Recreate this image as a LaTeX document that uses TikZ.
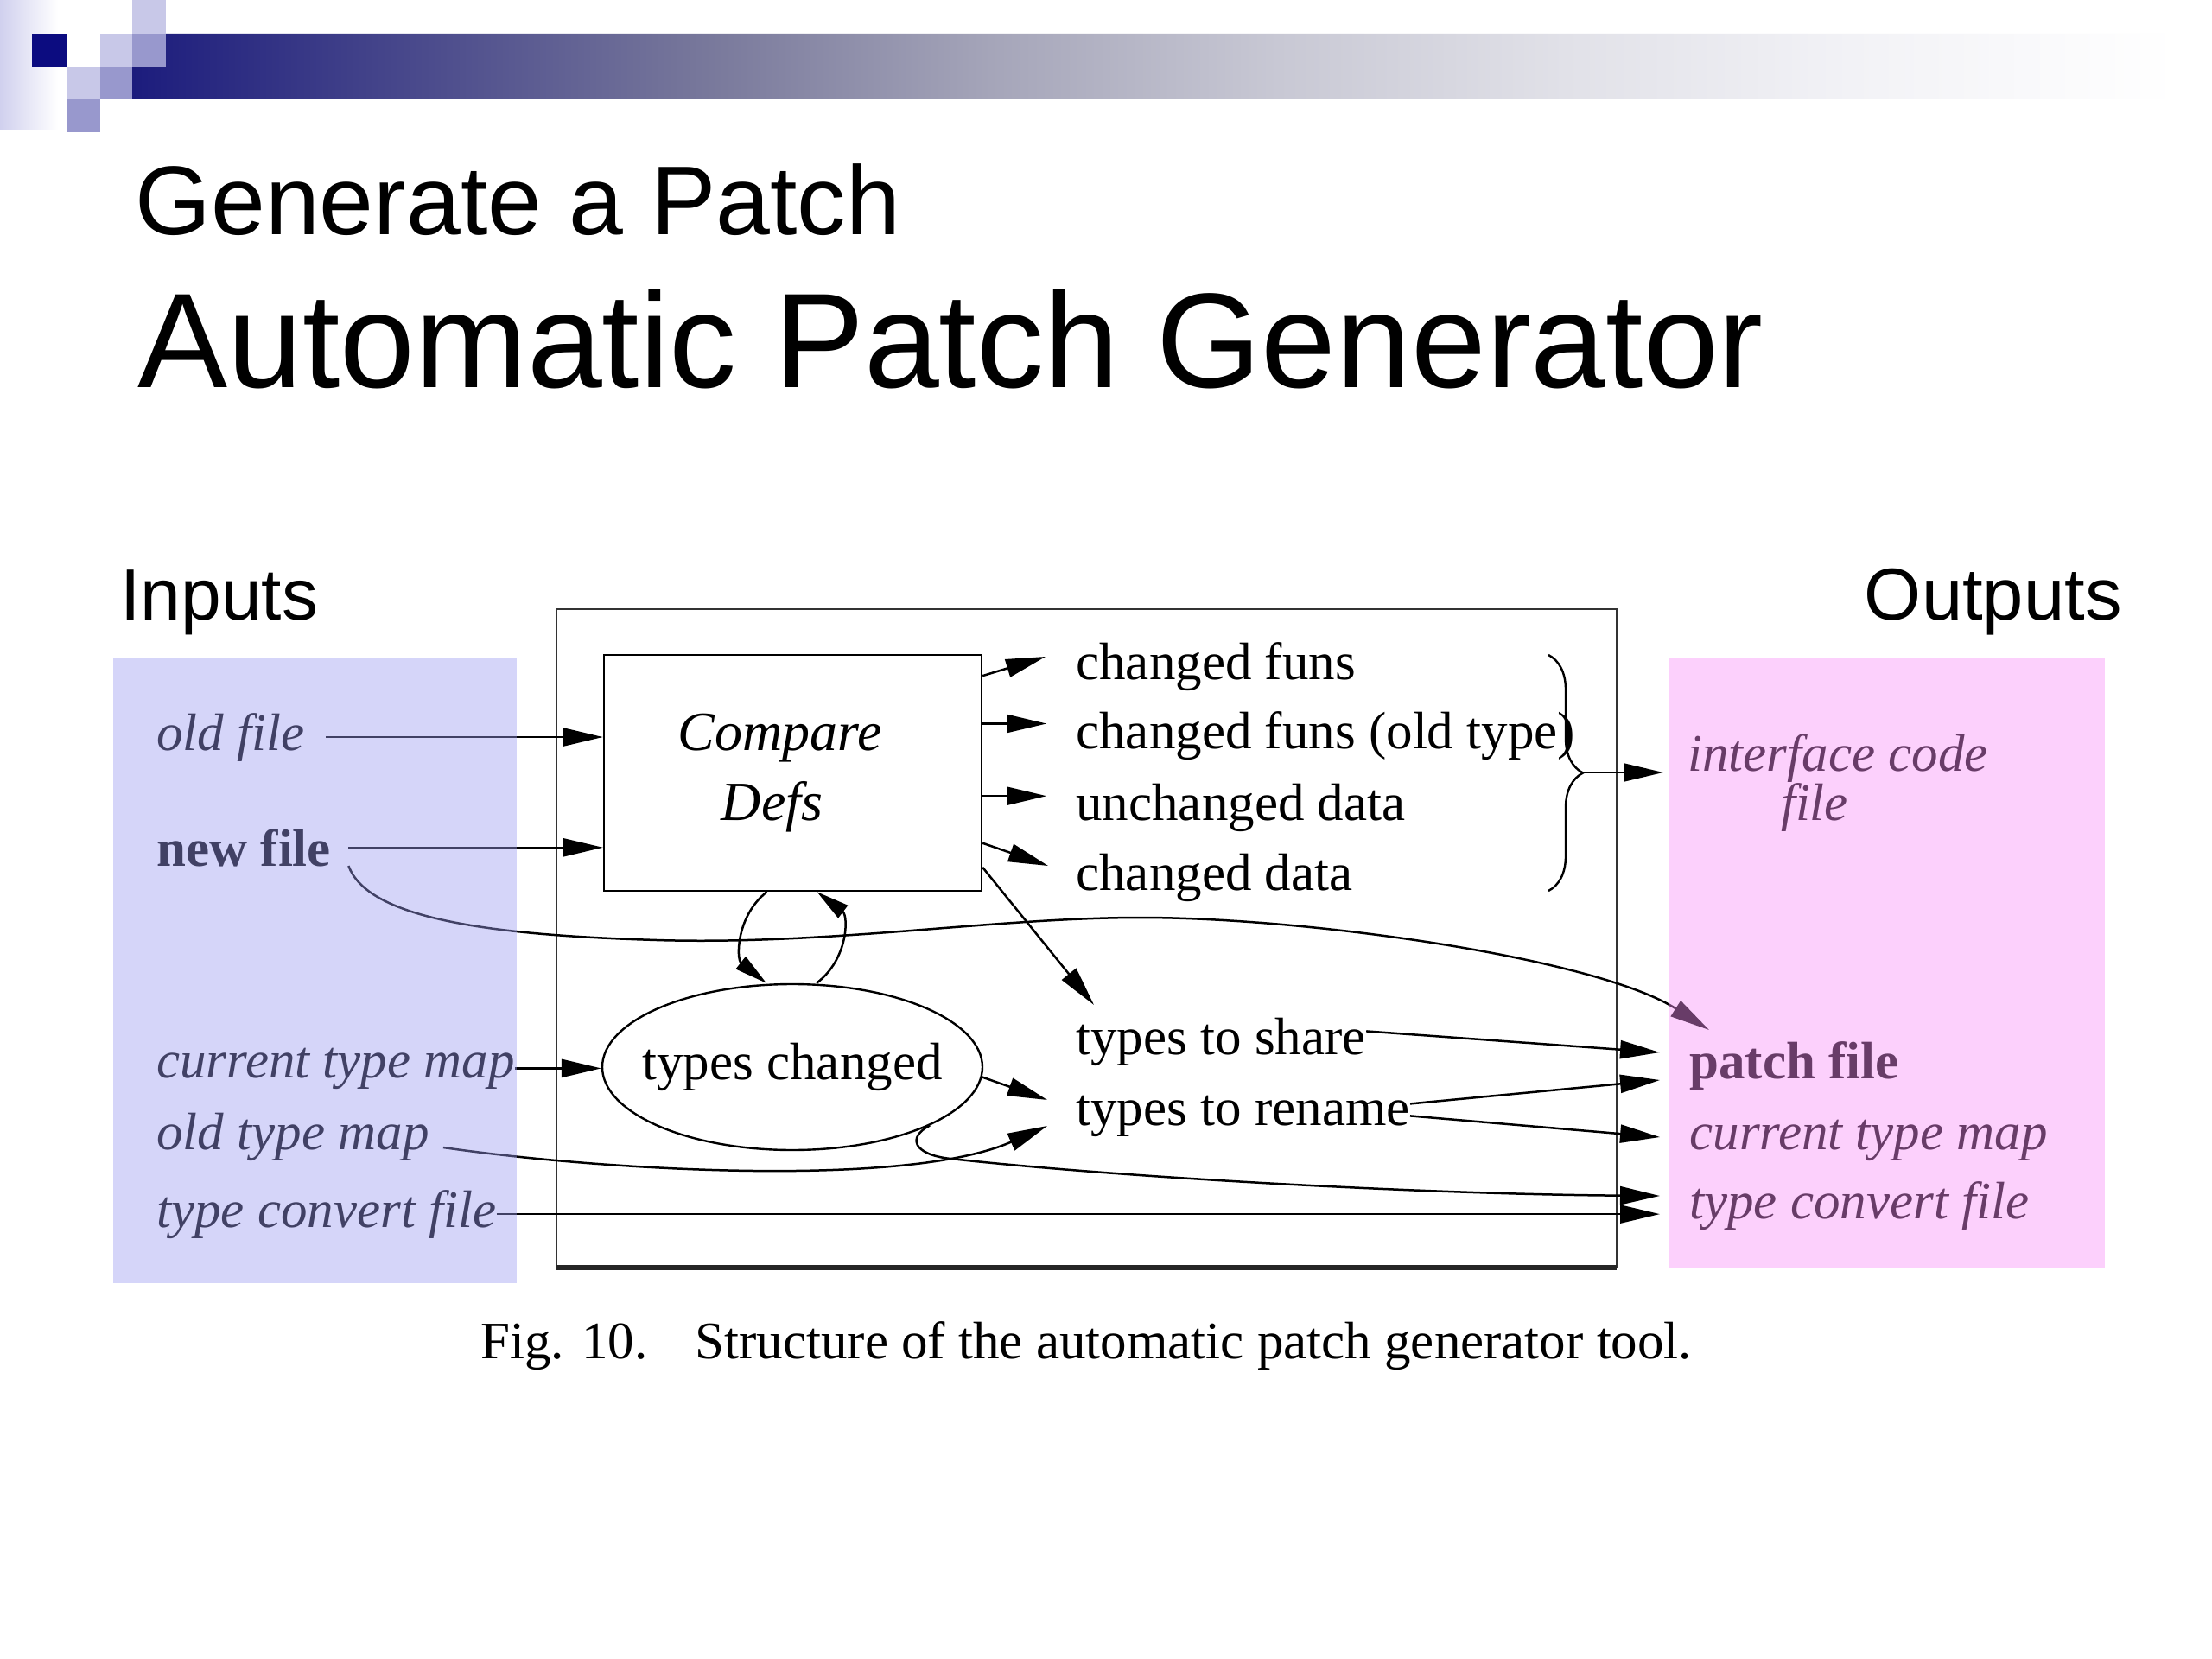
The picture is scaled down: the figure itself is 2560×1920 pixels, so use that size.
\documentclass[tikz,border=0pt]{standalone}
\usepackage{fontspec}
\setmainfont{Liberation Serif}
\newfontfamily\sansf{Liberation Sans}
\usetikzlibrary{arrows.meta,shapes.geometric,decorations.pathreplacing,calc}
\newcommand\diafont{\fontsize{30.5}{36}\selectfont}
\newcommand\cmpfont{\fontsize{32}{40.5}\selectfont}
\definecolor{barA}{RGB}{28,28,125}
\definecolor{barB}{RGB}{120,120,155}
\definecolor{barC}{RGB}{165,165,185}
\definecolor{barD}{RGB}{200,200,212}
\definecolor{barE}{RGB}{225,225,232}
\definecolor{barF}{RGB}{242,242,246}
\definecolor{navysq}{RGB}{12,12,128}
\definecolor{lightsq}{RGB}{200,200,232}
\definecolor{medsq}{RGB}{152,152,205}
\definecolor{stripc}{RGB}{208,208,238}
\definecolor{inpanel}{RGB}{157,157,243}
\definecolor{outpanel}{RGB}{248,143,248}
\pgfdeclarehorizontalshading{barshade}{100bp}{color(0bp)=(barA); color(25bp)=(barA); color(39bp)=(barB); color(46bp)=(barC); color(53bp)=(barD); color(60bp)=(barE); color(67bp)=(barF); color(75bp)=(white); color(100bp)=(white)}
\begin{document}
\begin{tikzpicture}[x=0.5pt,y=-0.5pt,
  txt/.style={font=\diafont, inner sep=0pt, anchor=base west},
  ttl/.style={inner sep=0pt, anchor=base west},
  arr/.style={line width=1.25pt, -{Triangle[length=23pt,width=10.5pt]}},
  arrS/.style={line width=1.25pt, -{Triangle[length=19pt,width=9pt]}},
  panelin/.style={fill=inpanel, fill opacity=0.42},
  panelout/.style={fill=outpanel, fill opacity=0.42}]
\useasboundingbox (0,0) rectangle (2560,1920);
\fill[white] (0,0) rectangle (2560,1920);
% decoration
\shade[left color=stripc, right color=white] (0,0) rectangle (67,150);
\shade[shading=barshade] (192,39) -- (2520,39) -- (2520,115) -- (153,115) -- (153,77) -- (192,77) -- cycle;
\fill[navysq] (37,39) rectangle (77,77);
\fill[lightsq] (116,39) rectangle (153,77);
\fill[lightsq] (153,0) rectangle (192,39);
\fill[lightsq] (77,77) rectangle (116,115);
\fill[medsq] (153,39) rectangle (192,77);
\fill[medsq] (116,77) rectangle (153,115);
\fill[medsq] (77,115) rectangle (116,153);
% titles
\node[ttl, font=\sansf\fontsize{56.5}{60}\selectfont] (t1) at (156,272) {Generate a Patch};
\node[ttl, font=\sansf\fontsize{78}{80}\selectfont] (t2) at (159,449) {Automatic Patch Generator};
\node[ttl, font=\sansf\fontsize{42}{44}\selectfont] (inp) at (139,717) {Inputs};
\node[ttl, anchor=base east, font=\sansf\fontsize{42.5}{44}\selectfont] (outp) at (2456,717) {Outputs};
% outer box
\draw[line width=1.4pt, black!80] (644,705) rectangle (1871,1467);
\draw[line width=3pt, black!85] (644,1467) -- (1871,1467);
% inputs
\node[txt] (oldf) at (181,868) {\itshape old file};
\node[txt] (newf) at (181,1002) {\bfseries new file};
\node[txt] (ctm) at (181,1247) {\itshape current type map};
\node[txt] (otm) at (181,1330) {\itshape old type map};
\node[txt] (tcf) at (181,1420) {\itshape type convert file};
% main nodes
\node[draw, line width=1.2pt, minimum width=218.5pt, minimum height=136.5pt, inner sep=0pt, font=\cmpfont\itshape, align=center] (cmp) at (917.5,894.5) {Compare\hspace*{15pt}\\Defs\hspace*{24pt}};
\node[draw, ellipse, line width=1.2pt, minimum width=220pt, minimum height=96pt, inner sep=0pt, font=\diafont] (tc) at (917,1235) {\makebox[0pt]{types changed}};
\node[txt] (cf) at (1245,786) {changed funs};
\node[txt] (cfo) at (1245,866) {changed funs (old type)};
\node[txt] (ud) at (1245,949) {unchanged data};
\node[txt] (cd) at (1245,1030) {changed data};
\node[txt] (ts) at (1245,1220) {types to share};
\node[txt] (tr) at (1245,1302) {types to rename};
% outputs
\node[font=\fontsize{30.5}{27.5}\selectfont\itshape, inner sep=0pt, align=center] (icf) at (2127,906) {interface code\\file\hspace*{27pt}};
\node[txt] (pf) at (1955,1248) {\bfseries patch file};
\node[txt] (octm) at (1955,1330) {\itshape current type map};
\node[txt] (otcf) at (1955,1410) {\itshape type convert file};
% tip coordinates
\coordinate (ecf) at (1210,760);
\coordinate (ecd) at (1213,1002);
\coordinate (ets) at (1266,1163);
\coordinate (etr1) at (1212,1273);
\coordinate (etr2) at (1212,1303);
\coordinate (braceTip) at (1832,894);
\coordinate (tIF) at (1925,894);
\coordinate (tP1) at (1921,1218);
\coordinate (tP2) at (1921,1250);
\coordinate (tC) at (1921,1316);
\coordinate (tV1) at (1921,1384);
\coordinate (tNF) at (1978,1192);
% input arrows
\draw[arr] ([xshift=12pt]oldf.east) -- (oldf.east -| cmp.west);
\draw[arr] ([xshift=10pt]newf.east) -- (newf.east -| cmp.west);
\draw[arr] (ctm.east) -- (ctm.east -| tc.west);
\draw[arr] (tcf.east) -- (tcf.east -| tV1);
\draw[arr] ([xshift=8pt,yshift=1pt]otm.base east) .. controls (700,1355) and (1050,1375) .. (etr2);
\draw[arr] ([xshift=10pt]newf.base east) .. controls (425,1062) and (560,1082) .. (760,1088)
   .. controls (960,1094) and (1150,1062) .. (1320,1062)
   .. controls (1520,1062) and (1850,1110) .. (tNF);
% compare outputs
\draw[arr] ($(cmp.north east)!0.092!(cmp.south east)$) -- (ecf);
\draw[arr] ($(cmp.north east)!0.293!(cmp.south east)$) -- ++(74,0);
\draw[arr] ($(cmp.north east)!0.597!(cmp.south east)$) -- ++(74,0);
\draw[arr] ($(cmp.north east)!0.795!(cmp.south east)$) -- (ecd);
\draw[arr] ($(cmp.north east)!0.897!(cmp.south east)$) -- (ets);
% loop
\draw[arrS] ([xshift=-15pt]cmp.south) .. controls (852,1060) and (852,1110) .. ([xshift=-15pt]tc.north);
\draw[arrS] ([xshift=14pt]tc.north) .. controls (982,1110) and (982,1060) .. ([xshift=14pt]cmp.south);
% types changed outputs
\draw[arr] (tc.-3) -- (etr1);
\draw[arr] (tc.-23) .. controls (1050,1316) and (1056,1336) .. (1100,1341) .. controls (1300,1363) and (1650,1382) .. (tV1);
% brace
\draw[line width=1.2pt, decorate, decoration={brace, amplitude=20pt}] (1792,758) -- (1792,1031);
\draw[arr] (braceTip) -- (tIF);
% to outputs
\draw[arr] ([yshift=6pt]ts.east) -- (tP1);
\draw[arr] ([yshift=7pt]tr.east) -- (tP2);
\draw[arr] (tr.east) -- (tC);
% caption
\node[txt] (cap) at (556,1572) {Fig. 10.\hspace{0.9em}Structure of the automatic patch generator tool.};
% panels (overlay)
\fill[panelin] (131,761) rectangle (598,1485);
\fill[panelout] (1932,761) rectangle (2436,1467);
\end{tikzpicture}
\end{document}
